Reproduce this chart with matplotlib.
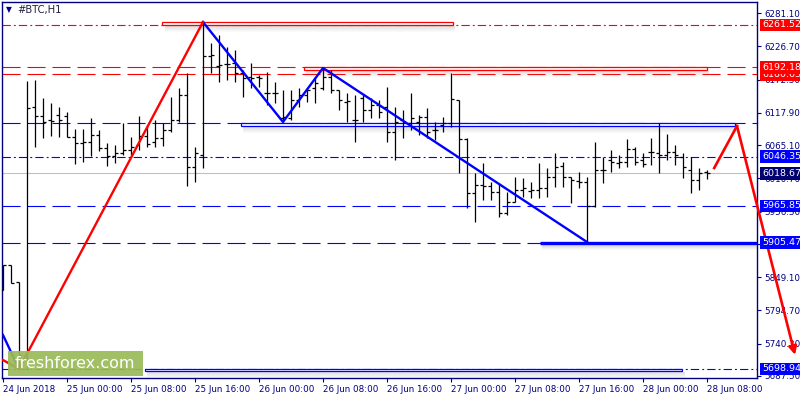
import matplotlib
matplotlib.use("Agg")
import matplotlib.pyplot as plt
from matplotlib.patches import Rectangle
from matplotlib.transforms import blended_transform_factory

plt.rcParams['font.family'] = ['DejaVu Sans']
plt.rcParams['lines.scale_dashes'] = False

#hourly OHLC bars, first bar = 24 Jun 16:00
opens = [5828.1, 5869.0, 5841.2, 5721.8, 6127.4, 6112.7, 6106.1, 6114.3, 6112.7, 6078.3,
         6068.5, 6070.1, 6081.6, 6060.3, 6047.3, 6052.2, 6057.1, 6065.2, 6080.0, 6070.1,
         6076.7, 6089.8, 6106.1, 6147.0, 6029.3, 6048.9, 6210.8, 6194.4, 6197.7, 6199.3,
         6183.0, 6176.4, 6176.4, 6150.3, 6150.3, 6109.4, 6109.4, 6138.8, 6147.0, 6158.5,
         6158.5, 6176.4, 6155.2, 6135.6, 6106.1, 6142.1, 6122.5, 6130.6, 6127.4, 6086.5,
         6106.1, 6101.2, 6102.9, 6111.0, 6089.8, 6098.0, 6101.2, 6138.8, 6075.0, 5986.7,
         5999.8, 5998.2, 5988.4, 5954.0, 5972.0, 5991.6, 5990.0, 5991.6, 5994.9, 6012.9,
         6030.9, 6012.9, 6006.4, 6004.7, 5965.5, 6024.4, 6040.7, 6035.8, 6037.4, 6058.7,
         6040.7, 6053.8, 6052.2, 6048.9, 6053.8, 6045.6, 6024.4, 6008.0, 6021.1]
highs = [5869.0, 5869.0, 5841.2, 6169.9, 6171.5, 6142.1, 6133.9, 6127.4, 6119.2, 6091.4,
         6091.4, 6109.4, 6089.8, 6068.5, 6065.2, 6101.2, 6078.3, 6112.7, 6098.0, 6106.1,
         6101.2, 6143.7, 6158.5, 6183.0, 6062.0, 6266.4, 6232.0, 6245.1, 6225.5, 6220.6,
         6187.9, 6199.3, 6179.7, 6184.6, 6168.3, 6155.2, 6155.2, 6158.5, 6158.5, 6176.4,
         6192.8, 6187.9, 6155.2, 6150.3, 6147.0, 6147.0, 6142.1, 6138.8, 6160.1, 6127.4,
         6122.5, 6150.3, 6114.3, 6125.7, 6102.9, 6111.0, 6183.0, 6138.8, 6076.7, 6019.5,
         6035.8, 6004.7, 6003.1, 5988.4, 6012.9, 6011.3, 6004.7, 6035.8, 6027.6, 6052.2,
         6037.4, 6012.9, 6021.1, 6012.9, 6070.1, 6045.6, 6057.1, 6048.9, 6075.0, 6062.0,
         6052.2, 6076.7, 6101.2, 6083.2, 6065.2, 6052.2, 6045.6, 6027.6, 6024.4]
lows = [5828.1, 5839.6, 5702.2, 5697.3, 6062.0, 6076.7, 6080.0, 6078.3, 6078.3, 6034.2,
        6037.4, 6047.3, 6055.4, 6030.9, 6035.8, 6048.9, 6048.9, 6057.1, 6062.0, 6062.0,
        6063.6, 6086.5, 6102.9, 5998.2, 6004.7, 6027.6, 6183.0, 6168.3, 6171.5, 6168.3,
        6143.7, 6158.5, 6160.1, 6130.6, 6133.9, 6102.9, 6106.1, 6127.4, 6135.6, 6133.9,
        6155.2, 6150.3, 6122.5, 6102.9, 6070.1, 6102.9, 6109.4, 6109.4, 6070.1, 6040.7,
        6076.7, 6089.8, 6081.6, 6076.7, 6073.4, 6086.5, 6094.7, 6019.5, 5962.2, 5939.3,
        5975.3, 5975.3, 5947.5, 5950.8, 5972.0, 5980.2, 5978.6, 5978.6, 5980.2, 5996.5,
        5996.5, 5970.4, 5994.9, 5906.6, 5963.9, 6003.1, 6021.1, 6027.6, 6029.3, 6032.5,
        6029.3, 6032.5, 6019.5, 6040.7, 6032.5, 6011.3, 5986.7, 5991.6, 6009.6]
closes = [5869.0, 5839.6, 5721.8, 6125.7, 6112.7, 6102.9, 6104.5, 6106.1, 6078.3, 6068.5,
          6070.1, 6081.6, 6060.3, 6047.3, 6052.2, 6057.1, 6062.0, 6080.0, 6066.9, 6076.7,
          6089.8, 6106.1, 6147.0, 6029.3, 6052.2, 6210.8, 6212.4, 6196.1, 6197.7, 6183.0,
          6174.8, 6174.8, 6174.8, 6150.3, 6150.3, 6111.0, 6138.8, 6147.0, 6155.2, 6166.6,
          6176.4, 6155.2, 6138.8, 6137.2, 6106.1, 6122.5, 6130.6, 6119.2, 6086.5, 6102.9,
          6102.9, 6109.4, 6111.0, 6086.5, 6089.8, 6101.2, 6140.5, 6075.0, 5986.7, 5999.8,
          5998.2, 5988.4, 5954.0, 5972.0, 5991.6, 5994.9, 5991.6, 5994.9, 6012.9, 6029.3,
          6012.9, 6008.0, 6004.7, 5965.5, 6024.4, 6024.4, 6037.4, 6037.4, 6058.7, 6037.4,
          6034.2, 6053.8, 6048.9, 6053.8, 6048.9, 6029.3, 6008.0, 6019.5, 6018.7]

time_labels = ["24 Jun 2018", "25 Jun 00:00", "25 Jun 08:00", "25 Jun 16:00", "26 Jun 00:00",
               "26 Jun 08:00", "26 Jun 16:00", "27 Jun 00:00", "27 Jun 08:00", "27 Jun 16:00",
               "28 Jun 00:00", "28 Jun 08:00"]

price_ticks = [6281.10, 6226.70, 6172.30, 6117.90, 6065.10, 6010.70, 5956.30, 5903.50,
               5849.10, 5794.70, 5740.30, 5687.50]

#horizontal levels: price, colour, style, label box
level_prices = [6261.52, 6180.63, 6192.18, 6101.2, 6046.35, 6018.67, 5965.85, 5905.47, 5698.94]
level_colors = ['red', 'red', 'red', 'blue', 'blue', '#c0c0c0', 'blue', 'blue', 'blue']
level_styles = ['dashdot', 'dashed', 'dashed', 'dashed', 'dashdot', 'solid', 'dashed', 'dashed', 'dashdot']
level_boxes = ['red', 'red', 'red', None, 'blue', '#000070', 'blue', 'blue', 'blue']

#zigzag drawings (bar index, price)
red_zz_x = [0, 2, 25]
red_zz_y = [5713.6, 5698.9, 6266.4]
blue_zz1_x = [0, 2]
blue_zz1_y = [5754.5, 5698.9]
blue_zz2_x = [25, 35, 40, 73]
blue_zz2_y = [6266.4, 6102.9, 6191.2, 5906.6]
red_arrow_x = [88.9, 91.75, 99.0]
red_arrow_y = [6027.6, 6096.3, 5722.0]

#rectangles: start bar, end bar, top price, bottom price, colour
rect_x0 = [19.9, 37.6, 29.75, 17.75]
rect_x1 = [56.25, 88.0, 91.5, 84.9]
rect_top = [6266.4, 6192.8, 6101.2, 5698.9]
rect_bot = [6261.5, 6187.9, 6096.3, 5695.7]
rect_col = ['red', 'red', 'blue', 'blue']

#thick support line
thick_x = [67.1, 94.25]
thick_y = 5905.47

navy = '#000080'
px = 1.6353  #price per pixel

fig = plt.figure(figsize=(8, 4), dpi=100)
fig.patch.set_facecolor('white')
ax = fig.add_axes([2/800, 22/400, 755/800, 376/400])
ax.set_xlim(-0.125, 94.25)
ax.set_ylim(5684.2, 6299.1)
for s in ax.spines.values():
    s.set_color(navy)
    s.set_linewidth(1)

dash_map = {'dashed': (0, (13, 5)), 'dashdot': (0, (6, 2.2, 1.4, 2.2)), 'solid': '-'}
for p, c, st in zip(level_prices, level_colors, level_styles):
    ax.axhline(p, color=c, lw=0.8, linestyle=dash_map[st], zorder=1)

#rectangles with shadow
for x0, x1, t, b, c in zip(rect_x0, rect_x1, rect_top, rect_bot, rect_col):
    for i in range(1, 7):
        ax.add_patch(Rectangle((x0 + 0.3, b - (i + 1) * px), x1 - x0, px, facecolor='gray',
                               edgecolor='none', alpha=0.28 - 0.04 * i, zorder=1.5))
    ax.add_patch(Rectangle((x0, b), x1 - x0, t - b, facecolor='white', edgecolor=c, lw=0.9, zorder=2))

for i in range(1, 6):
    ax.plot([thick_x[0] + 0.3, thick_x[1]], [thick_y - (i + 1) * px] * 2, color='gray',
            alpha=0.28 - 0.05 * i, lw=1, zorder=1.5)
ax.plot(thick_x, [thick_y, thick_y], color='blue', lw=2.4, zorder=2, solid_capstyle='butt')

#OHLC bars
n = len(opens)
xs = list(range(n))
ax.vlines(xs, lows, highs, color='black', lw=0.9, zorder=3)
ax.hlines(opens, [x - 0.4 for x in xs], xs, color='black', lw=0.9, zorder=3)
ax.hlines(closes, xs, [x + 0.4 for x in xs], color='black', lw=0.9, zorder=3)

#zigzags
ax.plot(blue_zz1_x, blue_zz1_y, color='blue', lw=1.7, zorder=4)
ax.plot(blue_zz2_x, blue_zz2_y, color='blue', lw=1.7, zorder=4)
ax.plot(red_zz_x, red_zz_y, color='red', lw=1.7, zorder=4)
ax.plot(red_arrow_x[:2], red_arrow_y[:2], color='red', lw=1.9, zorder=4, clip_on=False)
ax.annotate('', xy=(red_arrow_x[2], red_arrow_y[2]), xytext=(red_arrow_x[1], red_arrow_y[1]),
            arrowprops=dict(arrowstyle='-|>', color='red', lw=1.9, mutation_scale=12,
                            shrinkA=0, shrinkB=0), annotation_clip=False, zorder=4)

#axes ticks
ax.set_xticks(list(range(0, n, 8)))
ax.set_xticklabels(time_labels, ha='left')
ax.tick_params(axis='x', colors=navy, labelsize=6.3, length=3, width=0.8, pad=2)
for lab in ax.get_xticklabels():
    lab.set_color(navy)
ax.yaxis.tick_right()
ax.set_yticks(price_ticks)
ax.set_yticklabels(["%.2f" % p for p in price_ticks])
ax.tick_params(axis='y', colors=navy, labelsize=6.3, length=3, width=0.8, pad=2)

#level price boxes on the right axis
tr = blended_transform_factory(ax.transAxes, ax.transData)
for p, bc in zip(level_prices, level_boxes):
    if bc is None:
        continue
    ax.text(1.0 + 5/755, p, "%.2f" % p, transform=tr, ha='left', va='center', fontsize=6.8,
            color='white', clip_on=False, zorder=6,
            bbox=dict(boxstyle='square,pad=0.18', facecolor=bc, edgecolor='none'))

fig.text(6/800, 1 - 10/400, "\u25bc", fontsize=5.5, color=navy, va='center')
fig.text(17/800, 1 - 10/400, "#BTC,H1", fontsize=7.2, color='#202040', va='center')

#logo
fig.patches.append(Rectangle((8/800, 24/400), 135/800, 25/400, transform=fig.transFigure,
                             facecolor='#9aba59', edgecolor='none', alpha=0.93, zorder=10))
fig.text(75/800, 36.5/400, "freshforex.com", fontsize=11.5, color='white', ha='center',
         va='center', zorder=11)

fig.savefig("out.png", dpi=100)
